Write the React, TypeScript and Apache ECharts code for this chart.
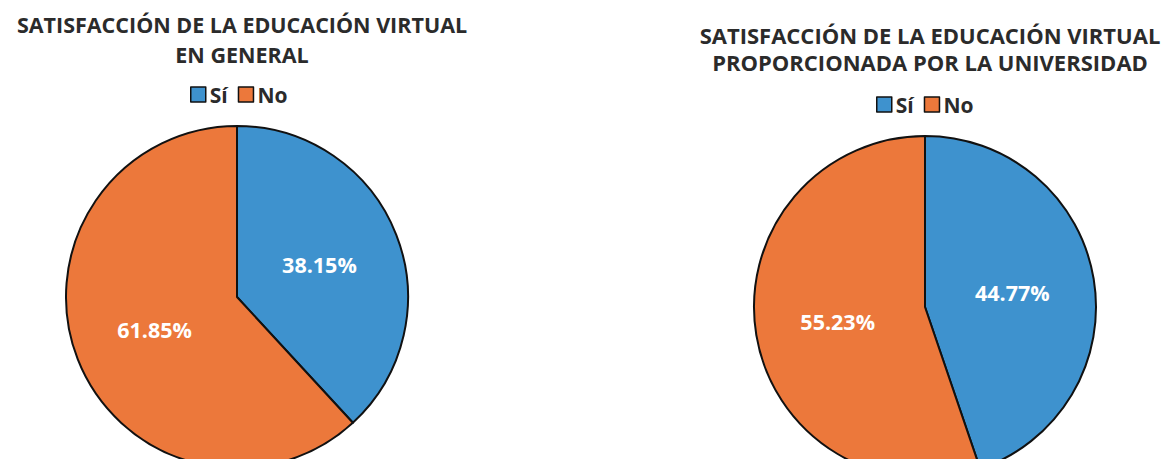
import React, { useEffect, useRef } from "react";
import * as echarts from "echarts";

const categories = ["Sí", "No"];
const generalValues = [38.15, 61.85];
const universidadValues = [44.77, 55.23];
const titles = [
  "SATISFACCIÓN DE LA EDUCACIÓN VIRTUAL\nEN GENERAL",
  "SATISFACCIÓN DE LA EDUCACIÓN VIRTUAL\nPROPORCIONADA POR LA UNIVERSIDAD",
];
const colors = ["#3E92CE", "#EC783B"];

export default function App() {
  const ref = useRef<HTMLDivElement>(null);
  useEffect(() => {
    document.body.style.margin = "0";
    if (!ref.current) return;
    const chart = echarts.init(ref.current, null, { renderer: "svg" });
    const font = "'Open Sans', 'Noto Sans', sans-serif";
    const mkData = (vals: number[]) =>
      categories.map((c, i) => ({ name: c, value: vals[i] }));
    const pieBase = {
      type: "pie",
      radius: 171,
      startAngle: 90,
      clockwise: true,
      avoidLabelOverlap: false,
      itemStyle: { borderColor: "#111", borderWidth: 2 },
      label: {
        show: true,
        position: "inside",
        formatter: (p: any) => p.value.toFixed(2) + "%",
        color: "#fff",
        fontFamily: font,
        fontWeight: "bold",
        fontSize: 21.5,
      },
      labelLine: { show: false },
      emphasis: { disabled: true },
    };
    const legendBase = {
      data: categories,
      itemWidth: 15,
      itemHeight: 15,
      itemGap: 10,
      icon: "rect",
      itemStyle: { borderColor: "#111", borderWidth: 1.5 },
      textStyle: {
        fontFamily: font,
        fontWeight: "bold",
        fontSize: 21,
        color: "#2b2b2b",
        padding: [0, 0, 0, -1],
      },
    };
    chart.setOption({
      animation: false,
      backgroundColor: "#fff",
      color: colors,
      title: [
        {
          text: titles[0],
          left: 237,
          top: 4,
          textAlign: "center",
          textStyle: {
            fontFamily: font,
            fontWeight: "bold",
            fontSize: 21.5,
            lineHeight: 30,
            color: "#2b2b2b",
          },
        },
        {
          text: titles[1],
          left: 925,
          top: 16,
          textAlign: "center",
          textStyle: {
            fontFamily: font,
            fontWeight: "bold",
            fontSize: 22,
            lineHeight: 27,
            color: "#2b2b2b",
          },
        },
      ],
      legend: [
        { ...legendBase, left: 185, top: 79 },
        { ...legendBase, left: 871, top: 89 },
      ],
      series: [
        { ...pieBase, name: "General", center: [237, 297], data: mkData(generalValues) },
        { ...pieBase, name: "Universidad", center: [925, 307], data: mkData(universidadValues) },
      ],
    });
    return () => chart.dispose();
  }, []);
  return <div ref={ref} style={{ width: 1173, height: 459 }} />;
}
